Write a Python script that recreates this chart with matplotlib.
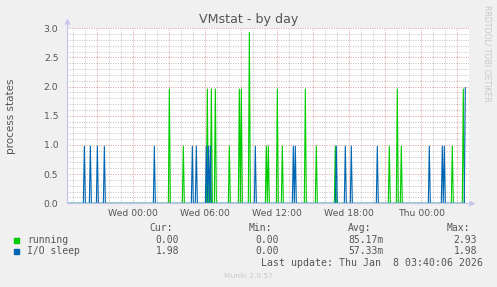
import numpy as np
import matplotlib
matplotlib.use("Agg")
import matplotlib.pyplot as plt
from matplotlib.ticker import FixedLocator, MultipleLocator

# spike times (day HH:MM) and peak values, 5-minute samples
running_times = ["Wed 03:00", "Wed 04:10", "Wed 06:10", "Wed 06:30", "Wed 06:50",
                 "Wed 08:00", "Wed 08:50", "Wed 09:00", "Wed 09:40", "Wed 11:05",
                 "Wed 11:15", "Wed 12:00", "Wed 12:25", "Wed 14:20", "Wed 15:15",
                 "Wed 16:50", "Wed 21:20", "Wed 22:00", "Wed 22:20", "Thu 02:35",
                 "Thu 03:30"]
running_vals = [1.96, 0.98, 1.96, 1.96, 1.96,
                0.98, 1.96, 1.96, 2.93, 0.98,
                0.98, 1.96, 0.98, 1.96, 0.98,
                0.98, 0.98, 1.96, 0.98, 0.98,
                1.96]

iosleep_times = ["Tue 19:55", "Tue 20:25", "Tue 21:00", "Tue 21:35", "Wed 01:45",
                 "Wed 04:55", "Wed 05:15", "Wed 06:05", "Wed 06:15", "Wed 06:25",
                 "Wed 10:10", "Wed 13:20", "Wed 13:30", "Wed 16:55", "Wed 17:40",
                 "Wed 18:10", "Wed 20:20", "Thu 00:40", "Thu 01:45", "Thu 01:55",
                 "Thu 03:40"]
iosleep_vals = [0.98] * 20 + [1.98]

xtick_hours = [0, 6, 12, 18, 24]
xtick_labels = ["Wed 00:00", "Wed 06:00", "Wed 12:00", "Wed 18:00", "Thu 00:00"]

stats_head = ["Cur:", "Min:", "Avg:", "Max:"]
stats_running = ["0.00", "0.00", "85.17m", "2.93"]
stats_iosleep = ["1.98", "0.00", "57.33m", "1.98"]

DAY = {"Tue": -24, "Wed": 0, "Thu": 24}


def hours(s):
    d, hm = s.split()
    h, m = hm.split(":")
    return DAY[d] + int(h) + int(m) / 60


# 5-minute sample grid from the left edge to the last update (Thu 03:40)
idx = np.arange(-67, 28 * 12 - 3)
t = idx / 12.0


def series(times, vals):
    y = np.zeros(len(t))
    for s, v in zip(times, vals):
        y[np.argmin(np.abs(t - hours(s)))] = v
    return y


y_run = series(running_times, running_vals)
y_io = series(iosleep_times, iosleep_vals)

W, H = 497, 287
fig = plt.figure(figsize=(W / 100, H / 100), dpi=100, facecolor="#F0F0F0")
ax = fig.add_axes([66.7 / W, 1 - 203.3 / H, (468.7 - 66.7) / W, (203.3 - 28.3) / H])
ax.set_facecolor("white")

ax.plot(t, y_run, color="#00CC00", lw=0.8, zorder=3)
ax.plot(t, y_io, color="#0066B3", lw=0.8, zorder=4)

ax.set_xlim(-5.555, 27.95)
ax.set_ylim(0, 3.0)

ax.xaxis.set_major_locator(FixedLocator(xtick_hours))
ax.set_xticklabels(xtick_labels)
ax.xaxis.set_minor_locator(MultipleLocator(1))
ax.yaxis.set_major_locator(MultipleLocator(0.5))
ax.yaxis.set_minor_locator(MultipleLocator(0.1))
ax.yaxis.set_major_formatter(plt.FormatStrFormatter("%.1f"))

# grid: gray minor, red major (every 3 h on x)
GRAY, RED = "#C4C4C4", "#E09C9C"
for h in np.arange(-5, 28):
    red = (h % 3 == 0)
    ax.axvline(h, color=RED if red else GRAY, lw=0.72,
               ls=(0, (1, 1.4)), zorder=1 if red else 0.5)
for v in np.arange(0.1, 3.01, 0.1):
    red = abs(v * 2 - round(v * 2)) < 1e-6
    ax.axhline(v, color=RED if red else GRAY, lw=0.72,
               ls=(0, (1, 1.4)), zorder=1 if red else 0.5)

ax.tick_params(axis="both", which="both", labelsize=6.7, colors="#555555",
               length=0, pad=4)
ax.tick_params(axis="y", pad=6)
for spine in ["top", "right"]:
    ax.spines[spine].set_visible(False)
for spine in ["left", "bottom"]:
    ax.spines[spine].set_color("#C4C4EC")
    ax.spines[spine].set_linewidth(0.9)
    ax.spines[spine].set_zorder(5)
ax.plot([27.95, 28.25], [0, 0], color="#C4C4EC", lw=0.9, clip_on=False, zorder=5)
ax.plot([28.25], [0], marker=">", ms=4, color="#C4C4EC", mec="none", clip_on=False, zorder=5)
ax.plot([-5.555, -5.555], [3.0, 3.12], color="#C4C4EC", lw=0.9, clip_on=False, zorder=5)
ax.plot([-5.555], [3.12], marker="^", ms=4, color="#C4C4EC", mec="none", clip_on=False, zorder=5)

ax.set_ylabel("process states", fontsize=7.5, color="#555555", labelpad=20)

fig.text(0.5, 1 - 19.5 / H, "VMstat - by day", ha="center", va="center",
         fontsize=9.1, color="#555555")
fig.text(487 / W, 1 - 53 / H, "RRDTOOL/ TOBI OETIKER", rotation=270,
         ha="center", va="center", fontsize=5.6, color="#C8C8C8")

mono = "DejaVu Sans Mono"
head_x = [149, 249, 348, 447]
val_x = [179, 279, 384, 477]
for s, x in zip(stats_head, head_x):
    fig.text(x / W, 1 - 228 / H, s, ha="left", va="center", family=mono,
             fontsize=7, color="#555555")
rows = [("running", "#00CC00", stats_running, 240),
        ("I/O sleep", "#0066B3", stats_iosleep, 251.5)]
for name, col, vals, yy in rows:
    fig.patches.append(plt.Rectangle((14 / W, 1 - (yy + 2.5) / H), 5 / W, 5 / H,
                                     transform=fig.transFigure, color=col))
    fig.text(27 / W, 1 - yy / H, name, ha="left", va="center", family=mono,
             fontsize=7, color="#555555")
    for s, x in zip(vals, val_x):
        fig.text(x / W, 1 - yy / H, s, ha="right", va="center", family=mono,
                 fontsize=7, color="#555555")
fig.text(483 / W, 1 - 263.5 / H, "Last update: Thu Jan  8 03:40:06 2026",
         ha="right", va="center", family=mono, fontsize=7.1, color="#555555")
fig.text(248 / W, 1 - 276.5 / H, "Munin 2.0.57", ha="center", va="center",
         fontsize=5.4, color="#C8C8C8")

fig.savefig("out.png", dpi=100, facecolor=fig.get_facecolor())
